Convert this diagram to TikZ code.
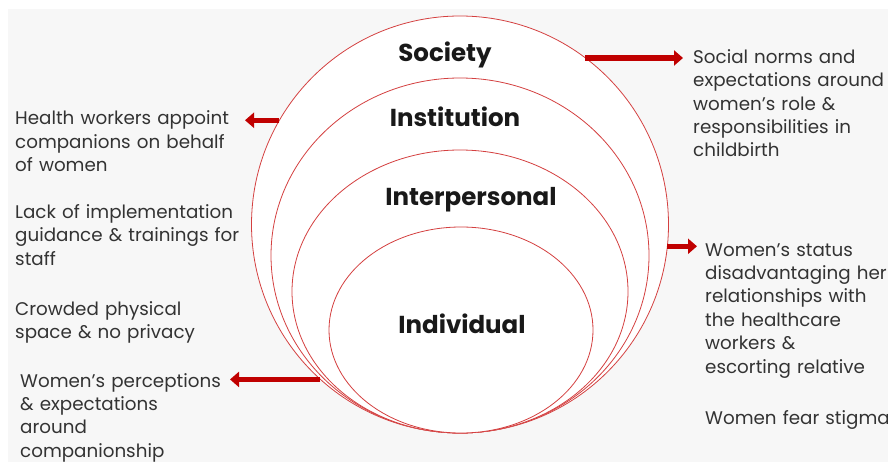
\documentclass[tikz,border=0pt]{standalone}
\usepackage{fontspec}
\setmainfont{Poppins}
\usetikzlibrary{arrows.meta,shapes.geometric}
\definecolor{ring}{RGB}{212,64,64}
\definecolor{band}{RGB}{192,0,0}
\definecolor{paper}{RGB}{247,247,247}
\definecolor{ink}{RGB}{51,51,51}
\tikzset{
	ringnode/.style={ellipse,draw=ring,line width=0.8pt,fill=white,inner sep=0pt,outer sep=0pt},
	level/.style={anchor=base,inner sep=0pt,font=\fontsize{24.5}{28}\selectfont\bfseries,text=black!90},
	note/.style={anchor=base west,align=left,text width=260pt,inner sep=0pt,font=\fontsize{18.3}{23.4}\selectfont,text=ink},
	bandarrow/.style={band,line width=5.5pt,-{Triangle[length=9pt,width=15pt]}}
}
\begin{document}
\begin{tikzpicture}[x=1pt,y=-1pt,line join=round]
	\useasboundingbox (0,0) rectangle (888,462);
	\fill[paper] (8,9) rectangle (888,462);
	\foreach \n/\cx/\cy/\w/\h in {Soc/460/224.5/417/417,Ins/460/255.5/378/355,Int/460/291.5/336/283,Ind/461/330/264/206}{
		\node[ringnode,minimum width=\w pt,minimum height=\h pt] (\n) at (\cx,\cy) {};
	};
	\node[level] (L1) at (445,62) {Society};
	\node[level] (L2) at (455,127) {Institution};
	\node[level] (L3) at (471,206) {Interpersonal};
	\node[level] (L4) at (462,333) {Individual};
	\node[note] (T1) at (693,63.3) {Social norms and\\expectations around\\women’s role \&\\responsibilities in\\childbirth};
	\node[note] (T2) at (705,256) {Women’s status\\disadvantaging her\\relationships with\\the healthcare\\workers \&\\escorting relative};
	\node[note] (T3) at (705,424) {Women fear stigma};
	\node[note] (T4) at (15,125) {Health workers appoint\\companions on behalf\\of women};
	\node[note] (T5) at (15,218.3) {Lack of implementation\\guidance \& trainings for\\staff};
	\node[note] (T6) at (15,315) {Crowded physical\\space \& no privacy};
	\node[note] (T7) at (20,387) {Women’s perceptions\\\& expectations\\around\\companionship};
	\path
	(683,57) coordinate (A1)
	(697,247) coordinate (A2)
	(245,120) coordinate (A3)
	(230,382) coordinate (A4);
	\draw[bandarrow] (Soc.53.4) -- (Soc.53.4 -| A1);
	\draw[bandarrow] (Soc.-6.1) -- (Soc.-6.1 -| A2);
	\draw[bandarrow] (Soc.150) -- (Soc.150 -| A3);
	\draw[bandarrow] (Soc.228.9) -- (Soc.228.9 -| A4);
\end{tikzpicture}
\end{document}
